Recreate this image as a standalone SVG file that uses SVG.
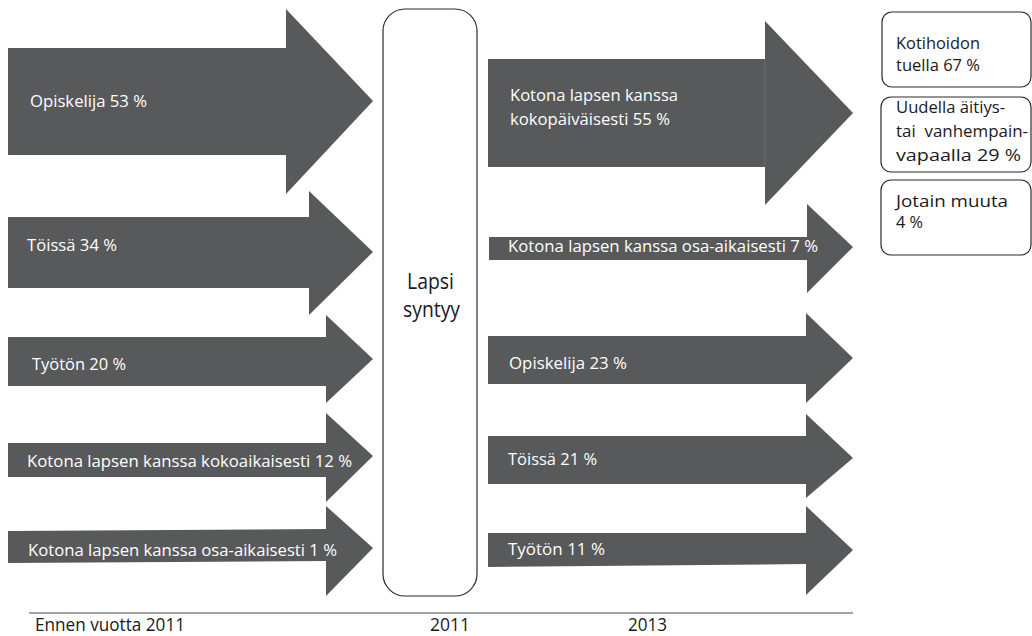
<svg xmlns="http://www.w3.org/2000/svg" width="1032" height="636" viewBox="0 0 1032 636">
<style>
.arr{fill:#58595b;stroke:none}
.lbl{font-family:"Open Sans","Noto Sans","Liberation Sans",sans-serif;font-size:17px;fill:#ffffff}
.box{fill:#ffffff;stroke:#2b2b2b;stroke-width:1.2}
.btxt{font-family:"Open Sans","Noto Sans","Liberation Sans",sans-serif;font-size:17px;fill:#1a1a1a}
.mid{font-family:"Open Sans","Noto Sans","Liberation Sans",sans-serif;font-size:22px;fill:#1a1a1a}
.axis{font-family:"Open Sans","Noto Sans","Liberation Sans",sans-serif;font-size:18px;fill:#1a1a1a}
</style>
<rect width="1032" height="636" fill="#ffffff"/>
<g id="connectors">
<g id="left-arrow-1">
<polygon class="arr" points="8,48 286,48 286,9 373,101 286,194 286,155 8,155"/>
<text class="lbl" x="30" y="107" textLength="117" lengthAdjust="spacingAndGlyphs">Opiskelija 53 %</text>
</g>
<g id="left-arrow-2">
<polygon class="arr" points="8,217 309,217 309,191 373,252 309,315 309,288 8,288"/>
<text class="lbl" x="27" y="251" textLength="90" lengthAdjust="spacingAndGlyphs">Töissä 34 %</text>
</g>
<g id="left-arrow-3">
<polygon class="arr" points="8,337 326,337 326,315 373,359 326,403 326,386 8,386"/>
<text class="lbl" x="32" y="370" textLength="94" lengthAdjust="spacingAndGlyphs">Työtön 20 %</text>
</g>
<g id="left-arrow-4">
<polygon class="arr" points="8,443 326,443 326,413 373,456 326,502 326,477 8,477"/>
<text class="lbl" x="27" y="467" textLength="325" lengthAdjust="spacingAndGlyphs">Kotona lapsen kanssa kokoaikaisesti 12 %</text>
</g>
<g id="left-arrow-5">
<polygon class="arr" points="8,531 326,529 326,506 373,548 326,596 326,561 8,563"/>
<text class="lbl" x="28" y="556" textLength="309" lengthAdjust="spacingAndGlyphs">Kotona lapsen kanssa osa-aikaisesti 1 %</text>
</g>
<g id="right-arrow-1">
<polygon class="arr" points="488,59 765,59 765,21 853,113 765,205 765,167 488,167"/>
<line x1="765" y1="59" x2="765" y2="167" stroke="#6b6c6e" stroke-width="1"/>
<text class="lbl" x="510" y="101" textLength="168" lengthAdjust="spacingAndGlyphs">Kotona lapsen kanssa</text>
<text class="lbl" x="510" y="125" textLength="160" lengthAdjust="spacingAndGlyphs">kokopäiväisesti 55 %</text>
</g>
<g id="right-arrow-2">
<polygon class="arr" points="489,237 807,237 807,204 853,247 807,293 807,260 489,260"/>
<text class="lbl" x="508" y="252" textLength="310" lengthAdjust="spacingAndGlyphs">Kotona lapsen kanssa osa-aikaisesti 7 %</text>
</g>
<g id="right-arrow-3">
<polygon class="arr" points="488,336 806,336 806,313 853,358 806,403 806,384 488,384"/>
<text class="lbl" x="509" y="369" textLength="118" lengthAdjust="spacingAndGlyphs">Opiskelija 23 %</text>
</g>
<g id="right-arrow-4">
<polygon class="arr" points="488,436 806,436 806,414 853,458 806,498 806,484 488,484"/>
<text class="lbl" x="508" y="465" textLength="89" lengthAdjust="spacingAndGlyphs">Töissä 21 %</text>
</g>
<g id="right-arrow-5">
<polygon class="arr" points="488,533 806,533 806,506 853,550 806,595 806,564 488,567"/>
<text class="lbl" x="508" y="555" textLength="97" lengthAdjust="spacingAndGlyphs">Työtön 11 %</text>
</g>
</g>
<g id="lapsi-syntyy">
<rect class="box" x="383" y="9" width="94" height="587" rx="22" ry="22"/>
<text class="mid" x="430.5" y="289" text-anchor="middle" textLength="47" lengthAdjust="spacingAndGlyphs">Lapsi</text>
<text class="mid" x="431.5" y="317" text-anchor="middle" textLength="57" lengthAdjust="spacingAndGlyphs">syntyy</text>
</g>
<g id="kotihoidon">
<rect class="box" x="882" y="12" width="149" height="75" rx="10" ry="10"/>
<text class="btxt" x="896" y="49" textLength="84" lengthAdjust="spacingAndGlyphs">Kotihoidon</text>
<text class="btxt" x="896" y="71" textLength="84" lengthAdjust="spacingAndGlyphs">tuella 67 %</text>
</g>
<g id="uudella">
<rect class="box" x="881" y="97" width="150" height="75" rx="10" ry="10"/>
<text class="btxt" x="896" y="113" textLength="109" lengthAdjust="spacingAndGlyphs">Uudella äitiys-</text>
<text class="btxt" x="896" y="137" textLength="132" lengthAdjust="spacingAndGlyphs" xml:space="preserve">tai  vanhempain-</text>
<text class="btxt" x="896" y="161" textLength="125" lengthAdjust="spacingAndGlyphs">vapaalla 29 %</text>
</g>
<g id="jotain-muuta">
<rect class="box" x="881" y="180" width="150" height="75" rx="10" ry="10"/>
<text class="btxt" x="896" y="207" textLength="112" lengthAdjust="spacingAndGlyphs">Jotain muuta</text>
<text class="btxt" x="896" y="228" textLength="27" lengthAdjust="spacingAndGlyphs">4 %</text>
</g>
<g id="timeline">
<line x1="29" y1="613" x2="853" y2="613" stroke="#858585" stroke-width="1.6"/>
<text class="axis" x="35" y="631" textLength="150" lengthAdjust="spacingAndGlyphs">Ennen vuotta 2011</text>
<text class="axis" x="430" y="631" textLength="40" lengthAdjust="spacingAndGlyphs">2011</text>
<text class="axis" x="628" y="631" textLength="39" lengthAdjust="spacingAndGlyphs">2013</text>
</g>
</svg>
